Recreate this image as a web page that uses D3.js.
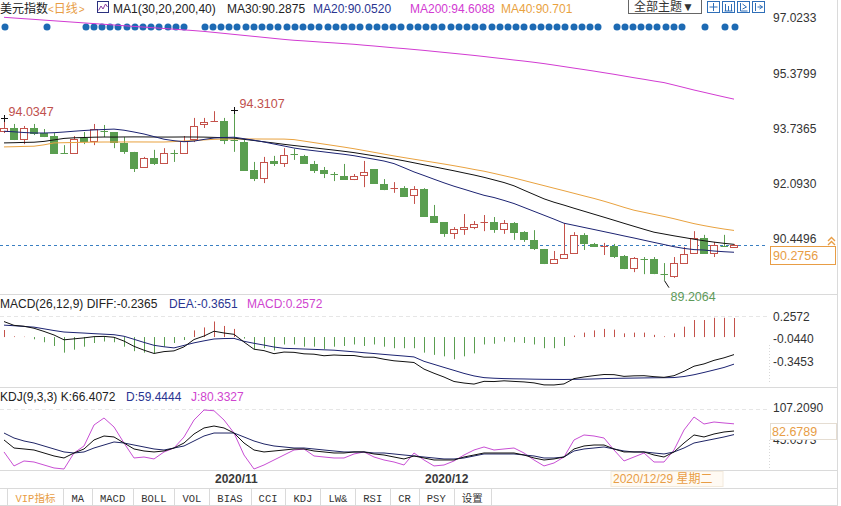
<!DOCTYPE html>
<html><head><meta charset="utf-8">
<script src="https://cdn.jsdelivr.net/npm/d3@7"></script>
<style>
html,body{margin:0;padding:0;background:#fff;}
svg{display:block;}
</style></head><body>
<svg id="c" width="841" height="506"></svg>
<script>
const dates = ["2020/10/02","2020/10/05","2020/10/06","2020/10/07","2020/10/08","2020/10/09","2020/10/12","2020/10/13","2020/10/14","2020/10/15",
"2020/10/16","2020/10/19","2020/10/20","2020/10/21","2020/10/22","2020/10/23","2020/10/26","2020/10/27","2020/10/28","2020/10/29",
"2020/10/30","2020/11/02","2020/11/03","2020/11/04","2020/11/05","2020/11/06","2020/11/09","2020/11/10","2020/11/11","2020/11/12",
"2020/11/13","2020/11/16","2020/11/17","2020/11/18","2020/11/19","2020/11/20","2020/11/23","2020/11/24","2020/11/25","2020/11/26",
"2020/11/27","2020/11/30","2020/12/01","2020/12/02","2020/12/03","2020/12/04","2020/12/07","2020/12/08","2020/12/09","2020/12/10",
"2020/12/11","2020/12/14","2020/12/15","2020/12/16","2020/12/17","2020/12/18","2020/12/21","2020/12/22","2020/12/23","2020/12/24",
"2020/12/28","2020/12/29","2020/12/30","2020/12/31","2021/01/04","2021/01/05","2021/01/06","2021/01/07","2021/01/08","2021/01/11",
"2021/01/12","2021/01/13","2021/01/14","2021/01/15"];

const open  = [93.66,93.75,93.42,93.75,93.60,93.51,93.02,93.00,93.45,93.36, 93.69,93.63,93.30,93.04,92.59,92.86,92.71,93.02,93.00,93.42,
93.87,93.94,93.96,93.41,93.33,92.50,92.26,92.77,92.71,92.99, 92.92,92.68,92.50,92.40,92.32,92.23,92.35,92.53,92.08,91.95,
91.96,91.76,91.93,91.13,90.95,90.63,90.74,90.80,90.95,90.95, 90.74,90.92,90.65,90.42,90.15,89.73,89.88,90.03,90.57,90.30,
90.21,90.24,89.94,89.58,89.87,89.85,89.42,89.35,89.73,90.03, 90.48,90.03,90.24,90.22];
const high  = [94.0347,93.87,93.81,93.87,93.72,93.60,93.24,93.51,93.63,93.87, 93.84,93.63,93.48,93.04,92.89,93.10,93.15,93.10,93.51,94.05,
94.05,94.25,94.05,94.3107,93.39,92.74,92.89,92.92,93.15,93.13, 92.95,92.77,92.59,92.44,92.68,92.38,92.77,92.53,92.23,92.14,
92.02,92.02,91.96,91.46,90.95,90.80,91.19,90.98,91.16,91.10, 91.01,90.95,90.68,90.71,90.15,90.09,90.92,90.65,90.62,90.33,
90.33,90.30,89.97,89.91,89.91,89.91,89.73,89.91,90.21,90.68, 90.57,90.36,90.57,90.30];
const low   = [93.60,93.39,93.27,93.54,93.48,92.98,92.99,93.00,93.27,93.24, 93.48,93.15,92.98,92.44,92.56,92.65,92.71,92.74,93.00,93.33,
93.75,93.94,93.27,93.04,92.47,92.17,92.11,92.62,92.59,92.80, 92.71,92.41,92.26,92.17,92.23,92.20,91.99,92.11,91.90,91.82,
91.73,91.49,91.13,90.95,90.51,90.45,90.57,90.74,90.68,90.63, 90.60,90.42,90.36,90.12,89.70,89.73,89.88,90.03,90.12,90.21,
89.97,89.88,89.55,89.46,89.40,89.40,89.2064,89.29,89.73,90.03, 90.03,89.91,90.21,90.19];
const close = [93.75,93.42,93.75,93.60,93.51,93.00,93.00,93.42,93.36,93.72, 93.66,93.33,93.07,92.56,92.86,92.71,93.00,93.00,93.36,93.81,
93.93,93.96,93.39,93.38,92.50,92.26,92.74,92.71,92.95,92.98, 92.71,92.50,92.41,92.38,92.23,92.32,92.44,92.11,91.93,91.96,
91.73,91.93,91.13,90.95,90.63,90.74,90.80,90.89,90.98,90.74, 90.92,90.65,90.45,90.18,89.73,89.85,90.00,90.57,90.33,90.24,
90.24,89.94,89.58,89.88,89.85,89.43,89.40,89.73,90.00,90.48, 90.03,90.27,90.22,90.2756];

const ma20 = [93.654,93.636,93.615,93.601,93.601,93.610,93.630,93.654,93.675,93.693, 93.705,93.717,93.684,93.630,93.571,93.494,93.416,93.372,93.342,93.360,
93.410,93.452,93.467,93.476,93.431,93.386,93.333,93.273,93.214,93.154, 93.110,93.074,93.038,93.002,92.967,92.925,92.872,92.821,92.767,92.690,
92.568,92.443,92.336,92.226,92.118,92.017,91.928,91.836,91.747,91.681, 91.595,91.502,91.386,91.270,91.154,91.038,90.916,90.854,90.791,90.729,
90.666,90.603,90.538,90.476,90.410,90.345,90.282,90.217,90.166,90.131, 90.118,90.089,90.068,90.052];
const ma30 = [93.306,93.312,93.321,93.327,93.351,93.395,93.440,93.458,93.467,93.476, 93.482,93.480,93.483,93.485,93.484,93.482,93.480,93.481,93.483,93.482,
93.479,93.470,93.461,93.449,93.413,93.377,93.339,93.303,93.264,93.229, 93.196,93.160,93.125,93.092,93.056,93.017,92.970,92.922,92.875,92.827,
92.773,92.714,92.654,92.595,92.535,92.476,92.413,92.351,92.282,92.205, 92.127,92.029,91.898,91.770,91.642,91.541,91.455,91.362,91.273,91.184,
91.095,91.005,90.913,90.824,90.735,90.649,90.595,90.541,90.491,90.440, 90.395,90.354,90.318,90.2875];
const ma40 = [93.187,93.193,93.202,93.208,93.249,93.306,93.312,93.318,93.324,93.330, 93.333,93.333,93.334,93.335,93.334,93.333,93.333,93.345,93.363,93.377,
93.395,93.413,93.422,93.423,93.424,93.423,93.422,93.421,93.420,93.404, 93.360,93.315,93.270,93.226,93.181,93.133,93.080,93.026,92.973,92.919,
92.869,92.821,92.773,92.726,92.678,92.627,92.574,92.517,92.464,92.398, 92.330,92.262,92.187,92.110,92.035,91.958,91.883,91.806,91.729,91.654,
91.571,91.482,91.389,91.303,91.241,91.178,91.118,91.050,90.976,90.904, 90.845,90.791,90.743,90.701];
const ma200 = [97.044,97.023,97.002,96.982,96.961,96.940,96.919,96.898,96.877,96.857, 96.836,96.815,96.794,96.773,96.752,96.732,96.711,96.690,96.669,96.648,
96.624,96.595,96.565,96.535,96.505,96.476,96.446,96.416,96.386,96.360, 96.342,96.321,96.300,96.282,96.261,96.241,96.214,96.190,96.163,96.136,
96.113,96.086,96.059,96.029,95.999,95.970,95.940,95.910,95.877,95.842, 95.809,95.773,95.741,95.705,95.666,95.622,95.577,95.532,95.488,95.443,
95.395,95.348,95.297,95.246,95.199,95.148,95.101,95.029,94.955,94.880, 94.812,94.743,94.675,94.6088];

const diff = [0.209,0.158,0.146,0.119,0.076,0.028,-0.037,-0.024,-0.011,0.006, 0.009,-0.003,-0.054,-0.125,-0.177,-0.221,-0.196,-0.186,-0.132,-0.033,
0.014,0.079,0.055,0.037,-0.067,-0.164,-0.183,-0.224,-0.202,-0.206, -0.226,-0.231,-0.252,-0.242,-0.248,-0.249,-0.271,-0.272,-0.299,-0.320,
-0.331,-0.343,-0.432,-0.488,-0.539,-0.599,-0.620,-0.634,-0.597,-0.600, -0.590,-0.598,-0.605,-0.618,-0.645,-0.646,-0.632,-0.560,-0.538,-0.520,
-0.505,-0.507,-0.530,-0.523,-0.521,-0.534,-0.543,-0.521,-0.462,-0.393, -0.362,-0.314,-0.280,-0.2365];
const dea = [0.161,0.153,0.143,0.134,0.111,0.088,0.068,0.061,0.054,0.046, 0.039,0.032,0.011,-0.030,-0.072,-0.111,-0.131,-0.146,-0.112,-0.078,
-0.051,-0.026,-0.020,-0.018,-0.057,-0.084,-0.108,-0.134,-0.152,-0.156, -0.161,-0.166,-0.172,-0.177,-0.188,-0.199,-0.211,-0.222,-0.234,-0.245,
-0.256,-0.268,-0.327,-0.368,-0.409,-0.449,-0.490,-0.524,-0.547,-0.555, -0.560,-0.563,-0.565,-0.568,-0.570,-0.571,-0.572,-0.570,-0.568,-0.565,
-0.560,-0.557,-0.555,-0.553,-0.551,-0.549,-0.548,-0.546,-0.532,-0.508, -0.477,-0.444,-0.410,-0.3651];
const macd = [0.095,0.010,0.005,-0.030,-0.070,-0.120,-0.210,-0.170,-0.130,-0.080, -0.060,-0.070,-0.130,-0.190,-0.210,-0.220,-0.130,-0.080,-0.040,0.090,
0.130,0.210,0.150,0.110,-0.020,-0.160,-0.150,-0.180,-0.100,-0.100, -0.130,-0.130,-0.160,-0.130,-0.120,-0.100,-0.120,-0.100,-0.130,-0.150,
-0.150,-0.150,-0.210,-0.240,-0.260,-0.300,-0.260,-0.220,-0.100,-0.090, -0.060,-0.070,-0.080,-0.100,-0.150,-0.150,-0.120,0.020,0.060,0.090,
0.110,0.100,0.050,0.060,0.060,0.030,0.010,0.050,0.140,0.230, 0.230,0.260,0.260,0.2572];

const kVals = [49.0,33.4,31.5,29.5,23.7,17.9,14.0,23.7,31.5,49.0, 56.7,54.8,43.1,31.5,27.6,25.7,27.6,33.4,43.1,60.6,
72.3,76.1,72.3,62.5,43.1,29.5,25.7,27.6,29.5,31.5, 31.5,27.6,25.7,23.7,23.7,25.7,25.7,21.8,19.8,15.9,
12.1,17.9,14.0,10.1,10.1,10.1,15.9,19.8,23.7,23.7, 23.7,23.7,19.8,14.0,10.1,12.1,15.9,31.5,37.3,39.2,
39.2,31.5,25.7,25.7,25.7,19.8,15.9,25.7,43.1,58.7, 54.8,60.6,64.5,66.4072];
const dVals = [62.5,52.8,47.0,43.1,37.3,31.5,25.7,23.7,25.7,33.4, 39.2,45.1,43.1,39.2,35.4,31.5,29.5,33.4,37.3,47.0,
56.7,62.5,62.5,62.5,54.8,47.0,41.2,37.3,35.4,33.4, 33.4,31.5,29.5,27.6,25.7,25.7,25.7,23.7,23.7,21.8,
19.8,17.9,15.9,14.0,12.1,12.1,14.0,17.9,21.8,21.8, 21.8,21.8,19.8,17.9,14.0,14.0,15.9,27.6,31.5,33.4,
35.4,31.5,27.6,25.7,25.7,23.7,21.8,25.7,33.4,43.1, 47.0,50.9,54.8,59.4444];
const jVals = [25.7,-1.5,8.2,6.2,0.4,-5.4,-7.4,23.7,37.3,78.1, 91.7,74.2,43.1,14.0,15.9,12.1,25.7,33.4,54.8,87.8,
107.209,105.8,87.8,62.5,19.8,-7.4,0.4,10.1,19.8,29.5, 31.5,17.9,15.9,14.0,14.0,21.8,25.7,15.9,10.1,6.2,
0.4,23.7,10.1,-1.5,0.4,8.2,19.8,29.5,35.4,29.5, 31.5,33.4,23.7,10.1,-1.5,4.3,15.9,49.0,58.7,56.7,
52.8,29.5,8.2,15.9,23.7,6.2,6.2,29.5,68.4,93.6, 80.0,83.9,82.0,80.3327];

const priceTicks = [97.0233,95.3799,93.7365,92.0930,90.4496];
const macdTicks = [0.2572,-0.0440,-0.3453];
const kdjTicks = [107.2090,45.0573];
const lastPrice = 90.2756;
const kdjMarker = 82.6789;
const crossDate = "2020/12/29";
const crossWeekday = "星期二";

// news/event markers (time, in bar units)
const events = [0.1,4.3,
 8.2,9.0,9.8,10.6,11.4,12.3,13.1,13.9,14.7,15.5,16.4,17.2,18.0,
 20.1,20.9,21.7,22.5,23.3,24.2,25.0,25.8,26.6,27.4,28.3,29.1,29.9,30.7,31.5,32.4,33.2,34.0,34.8,35.6,36.5,37.3,38.1,38.9,39.7,
 40.6,41.4,42.2,43.0,43.8,44.7,45.5,46.3,47.1,47.9,48.8,49.6,50.4,51.2,52.0,52.9,53.7,54.5,55.3,56.1,57.0,57.8,58.6,59.4,
 61.3,62.1,62.9,63.7,64.5,65.3,66.2,67.0,67.8, 70.1, 72.1,73.1];

const tabs = ["VIP指标","MA","MACD","BOLL","VOL","BIAS","CCI","KDJ","LW&","RSI","CR","PSY","设置"];

const FONT = '"Liberation Sans", Arial, "Noto Sans CJK SC", sans-serif';
const MONO = '"Liberation Mono", "Noto Sans CJK SC", monospace';
const RED = "#c4524b", GREEN = "#5a9e50";
const C_MA30 = "#111111", C_MA20 = "#1c2372", C_MA40 = "#e9a23f", C_MA200 = "#d23bd2";
const NAVY = "#2a3591", MAGENTA = "#cf45cf", ORANGE = "#e89d45", GRID = "#dadada";

const svg = d3.select("#c").attr("font-family", FONT);

const x = d3.scalePoint().domain(dates).range([4, 734]);
const xEvt = d3.scaleLinear().domain([0, dates.length - 1]).range(x.range());
const yMain = d3.scaleLinear().domain([90.4496, 97.0233]).range([238.9, 18]);
const yMacd = d3.scaleLinear().domain([-0.6464, 0.2572]).range([385, 318]);
const yKdj = d3.scaleLinear().domain([-17.1, 107.209]).range([474, 410]);
const px = d => Math.round(x(d)) + 0.5;

// ---------- panel frames ----------
const frame = svg.append("g").attr("stroke", GRID).attr("stroke-width", 1);
[294.5, 387.5, 470.5, 488.5, 505.5].forEach(y =>
  frame.append("line").attr("x1", 0).attr("x2", 838).attr("y1", y).attr("y2", y));
frame.append("line").attr("x1", 837.5).attr("x2", 837.5).attr("y1", 0).attr("y2", 506);
svg.append("line").attr("x1", 0).attr("x2", 768).attr("y1", Math.round(yMacd(macdTicks[0])) - 1.5).attr("y2", Math.round(yMacd(macdTicks[0])) - 1.5)
  .attr("stroke", "#e6e6e6").attr("stroke-dasharray", "4,3");
svg.append("line").attr("x1", 0).attr("x2", 768).attr("y1", Math.round(yKdj(kdjTicks[0])) - 0.5).attr("y2", Math.round(yKdj(kdjTicks[0])) - 0.5)
  .attr("stroke", "#e6e6e6").attr("stroke-dasharray", "4,3");
svg.append("line").attr("x1", 769.5).attr("x2", 769.5).attr("y1", 345).attr("y2", 384).attr("stroke", "#d8d8d8").attr("stroke-dasharray", "1,2");
svg.append("line").attr("x1", 769.5).attr("x2", 769.5).attr("y1", 440).attr("y2", 468).attr("stroke", "#d8d8d8").attr("stroke-dasharray", "1,2");

// ---------- header ----------
const hdr = svg.append("g").attr("font-size", 12);
hdr.append("text").attr("x", 0).attr("y", 12.5).attr("fill", "#222").text("美元指数");
const tf = hdr.append("text").attr("x", 48).attr("y", 12.5).attr("fill", ORANGE);
tf.append("tspan").attr("font-size", 10).text("<");
tf.append("tspan").text("日线");
tf.append("tspan").attr("font-size", 10).attr("dx", 1).text(">");
const ic = svg.append("g").attr("fill", "none").attr("stroke", "#2b3280");
ic.append("rect").attr("x", 97.5).attr("y", 1.5).attr("width", 11).attr("height", 11);
ic.append("path").attr("d", "M98.5,10.5 L101,6 L103,9 L105.5,4 L107.5,7").attr("stroke", "#8a3ca0");
hdr.append("text").attr("x", 113).attr("y", 12.5).attr("fill", "#222").text("MA1(30,20,200,40)");
hdr.append("text").attr("x", 227).attr("y", 12.5).attr("fill", "#222").text("MA30:" + ma30[ma30.length - 1].toFixed(4));
hdr.append("text").attr("x", 313).attr("y", 12.5).attr("fill", NAVY).text("MA20:" + ma20[ma20.length - 1].toFixed(4));
hdr.append("text").attr("x", 410).attr("y", 12.5).attr("fill", C_MA200).text("MA200:" + ma200[ma200.length - 1].toFixed(4));
hdr.append("text").attr("x", 501).attr("y", 12.5).attr("fill", C_MA40).text("MA40:" + ma40[ma40.length - 1].toFixed(3));

svg.append("rect").attr("x", 628.5).attr("y", -0.5).attr("width", 73).attr("height", 14).attr("fill", "#fff").attr("stroke", "#666");
svg.append("text").attr("x", 634).attr("y", 11).attr("font-size", 12).attr("fill", "#333").text("全部主题▼");
const tools = svg.append("g").attr("fill", "none").attr("stroke", "#2f6fb8");
[707.5, 722.5, 737.5, 752.5].forEach((tx, k) => {
  tools.append("rect").attr("x", tx).attr("y", 1.5).attr("width", 12).attr("height", 11);
  const cxi = tx + 6, cyi = 7;
  const paths = [
    `M${cxi},${cyi-4} V${cyi+4} M${cxi-4},${cyi} H${cxi+4}`,
    `M${tx+3},${cyi-3} V${cyi+4} M${tx+6},${cyi-1} V${cyi+4} M${tx+9},${cyi-3} V${cyi+4} M${tx+2},${cyi+4} H${tx+10}`,
    `M${tx+3},${cyi-4} V${cyi+4} H${tx+10} M${tx+5},${cyi-3} L${tx+9},${cyi} L${tx+5},${cyi+2}`,
    `M${tx+3},${cyi-4} V${cyi+4} M${tx+5},${cyi} H${tx+10} M${tx+7},${cyi-2} L${tx+10},${cyi} L${tx+7},${cyi+2}`
  ];
  tools.append("path").attr("d", paths[k]);
});

// ---------- right axes ----------
function rightAxis(scale, ticks, dy) {
  const ax = d3.axisRight(scale).tickValues(ticks).tickSize(0).tickPadding(3).tickFormat(d => d.toFixed(4));
  const g = svg.append("g").attr("transform", `translate(770,${dy})`).call(ax);
  g.select(".domain").remove();
  g.attr("font-size", 12).attr("font-family", FONT);
  g.selectAll("text").attr("fill", "#333");
  return g;
}
rightAxis(yMain, priceTicks, 0);
rightAxis(yMacd, macdTicks, -1.5);
rightAxis(yKdj, kdjTicks, -2);

// ---------- event dots ----------
svg.append("g").selectAll("circle").data(events).join("circle")
  .attr("cx", d => xEvt(d)).attr("cy", 27).attr("r", 3.5).attr("fill", "#1d6ab3");

// ---------- last price line ----------
const yLast = Math.round(yMain(lastPrice)) + 0.5;
svg.append("line").attr("x1", 0).attr("x2", 768).attr("y1", yLast).attr("y2", yLast)
  .attr("stroke", "#3a7fc2").attr("stroke-dasharray", "3,3");

// ---------- candles ----------
const cg = svg.append("g");
dates.forEach((d, i) => {
  const o = open[i], c = close[i], h = high[i], l = low[i];
  const up = c >= o;
  const col = up ? RED : GREEN;
  const X = px(d);
  cg.append("line").attr("x1", X).attr("x2", X).attr("y1", yMain(h)).attr("y2", yMain(l)).attr("stroke", col);
  const yT = yMain(Math.max(o, c)), yB = yMain(Math.min(o, c));
  if (yB - yT < 1.5) {
    const ym = Math.round((yT + yB) / 2) + 0.5;
    cg.append("line").attr("x1", X - 4).attr("x2", X + 3.5).attr("y1", ym).attr("y2", ym).attr("stroke", col);
  } else {
    const t = Math.round(yT) + 0.5, b = Math.round(yB) + 0.5;
    cg.append("rect").attr("x", X - 4).attr("y", t).attr("width", 7).attr("height", b - t)
      .attr("fill", up ? "#fff" : col).attr("stroke", col);
  }
});

// ---------- moving averages ----------
function drawLine(vals, scale, color) {
  const line = d3.line().x((v, i) => x(dates[i])).y(v => scale(v));
  svg.append("path").attr("d", line(vals)).attr("fill", "none").attr("stroke", color).attr("stroke-width", 1);
}
drawLine(ma200, yMain, C_MA200);
drawLine(ma40, yMain, C_MA40);
drawLine(ma30, yMain, C_MA30);
drawLine(ma20, yMain, C_MA20);

// ---------- high / low annotations ----------
function plus(cx, cy) {
  svg.append("path").attr("d", `M${cx-3.5},${cy} H${cx+3.5} M${cx},${cy-3.5} V${cy+3.5}`).attr("stroke", "#111");
}
const iMax = d3.maxIndex(high), iMin = d3.minIndex(low);
plus(px(dates[0]), Math.round(yMain(high[0])) + 0.5);
svg.append("text").attr("x", px(dates[0]) + 4).attr("y", yMain(high[0]) - 2).attr("font-size", 12.5).attr("fill", "#c0504d").text(high[0].toFixed(4));
plus(px(dates[iMax]), Math.round(yMain(high[iMax])) + 1.5);
svg.append("text").attr("x", px(dates[iMax]) + 5).attr("y", yMain(high[iMax]) - 1).attr("font-size", 12.5).attr("fill", "#c0504d").text(high[iMax].toFixed(4));
const lx = px(dates[iMin]), ly = yMain(low[iMin]);
svg.append("line").attr("x1", lx).attr("y1", ly).attr("x2", lx + 4.5).attr("y2", ly + 7).attr("stroke", "#111");
svg.append("text").attr("x", lx + 6).attr("y", ly + 20.5).attr("font-size", 12.5).attr("fill", "#5e9a5a").text(low[iMin].toFixed(4));

svg.append("rect").attr("x", 770.5).attr("y", yLast + 1).attr("width", 65).attr("height", 18).attr("fill", "#fff").attr("stroke", ORANGE);
svg.append("text").attr("x", 773).attr("y", yLast + 14.5).attr("font-size", 12.5).attr("fill", ORANGE).text(lastPrice.toFixed(4));
svg.append("path").attr("d", "M828,241 L831.5,237.5 L835,241 M828,245 L831.5,241.5 L835,245").attr("fill", "none").attr("stroke", ORANGE).attr("stroke-width", 1.4);

// ---------- MACD panel ----------
const mh = svg.append("g").attr("font-size", 12);
mh.append("text").attr("x", 0).attr("y", 308).attr("fill", "#222").text(`MACD(26,12,9) DIFF:${diff[diff.length-1].toFixed(4)}`);
mh.append("text").attr("x", 169).attr("y", 308).attr("fill", NAVY).text(`DEA:${dea[dea.length-1].toFixed(4)}`);
mh.append("text").attr("x", 247).attr("y", 308).attr("fill", MAGENTA).text(`MACD:${macd[macd.length-1].toFixed(4)}`);
const zeroY = yMacd(0);
svg.append("g").selectAll("line").data(macd).join("line")
  .attr("x1", (v, i) => px(dates[i])).attr("x2", (v, i) => px(dates[i]))
  .attr("y1", zeroY).attr("y2", v => yMacd(v))
  .attr("stroke", v => v >= 0 ? RED : GREEN);
drawLine(dea, yMacd, C_MA20);
drawLine(diff, yMacd, "#111");

// ---------- KDJ panel ----------
const kh = svg.append("g").attr("font-size", 12);
kh.append("text").attr("x", 0).attr("y", 401).attr("fill", "#222").text(`KDJ(9,3,3) K:${kVals[kVals.length-1].toFixed(4)}`);
kh.append("text").attr("x", 126).attr("y", 401).attr("fill", NAVY).text(`D:${dVals[dVals.length-1].toFixed(4)}`);
kh.append("text").attr("x", 191).attr("y", 401).attr("fill", MAGENTA).text(`J:${jVals[jVals.length-1].toFixed(4)}`);
drawLine(jVals, yKdj, "#c84fd4");
drawLine(dVals, yKdj, "#1f2566");
drawLine(kVals, yKdj, "#111");
svg.append("rect").attr("x", 770.5).attr("y", 423.5).attr("width", 66).attr("height", 16).attr("fill", "#fff").attr("stroke", "#e5ddd2");
svg.append("text").attr("x", 772).attr("y", 436).attr("font-size", 12.5).attr("fill", ORANGE).text(kdjMarker.toFixed(4));

// ---------- date axis ----------
const cdx = Math.round(x(crossDate)) - 3;
const monthStarts = dates.filter((d, i) => i > 0 && d.slice(0, 7) !== dates[i - 1].slice(0, 7)
  && (x(d) + 45 < cdx || x(d) > cdx + 112));
svg.append("g").selectAll("text").data(monthStarts).join("text")
  .attr("x", d => x(d) + 1).attr("y", 482.5).attr("font-size", 12).attr("font-weight", "bold").attr("fill", "#3a3a3a")
  .text(d => d.slice(0, 7));
svg.append("rect").attr("x", cdx).attr("y", 471.5).attr("width", 112).attr("height", 15).attr("fill", "#fffaf3").attr("stroke", "#f3eadc");
svg.append("text").attr("x", cdx + 2).attr("y", 483).attr("font-size", 12).attr("fill", ORANGE).text(`${crossDate} ${crossWeekday}`);

// ---------- bottom tab bar ----------
const tb = svg.append("g");
let tx = 7.5;
tb.append("line").attr("x1", tx).attr("x2", tx).attr("y1", 488.5).attr("y2", 505.5).attr("stroke", GRID);
tabs.forEach((t, k) => {
  const txt = tb.append("text").attr("y", 502).attr("font-family", MONO).attr("font-size", 10.5)
    .attr("fill", k === 0 ? ORANGE : "#333").attr("text-anchor", "middle").text(t);
  const w = txt.node().getComputedTextLength() + 16;
  txt.attr("x", tx + w / 2);
  tx += w;
  const sx = Math.round(tx) + 0.5;
  tb.append("line").attr("x1", sx).attr("x2", sx).attr("y1", 488.5).attr("y2", 505.5).attr("stroke", GRID);
});
</script>
</body></html>
